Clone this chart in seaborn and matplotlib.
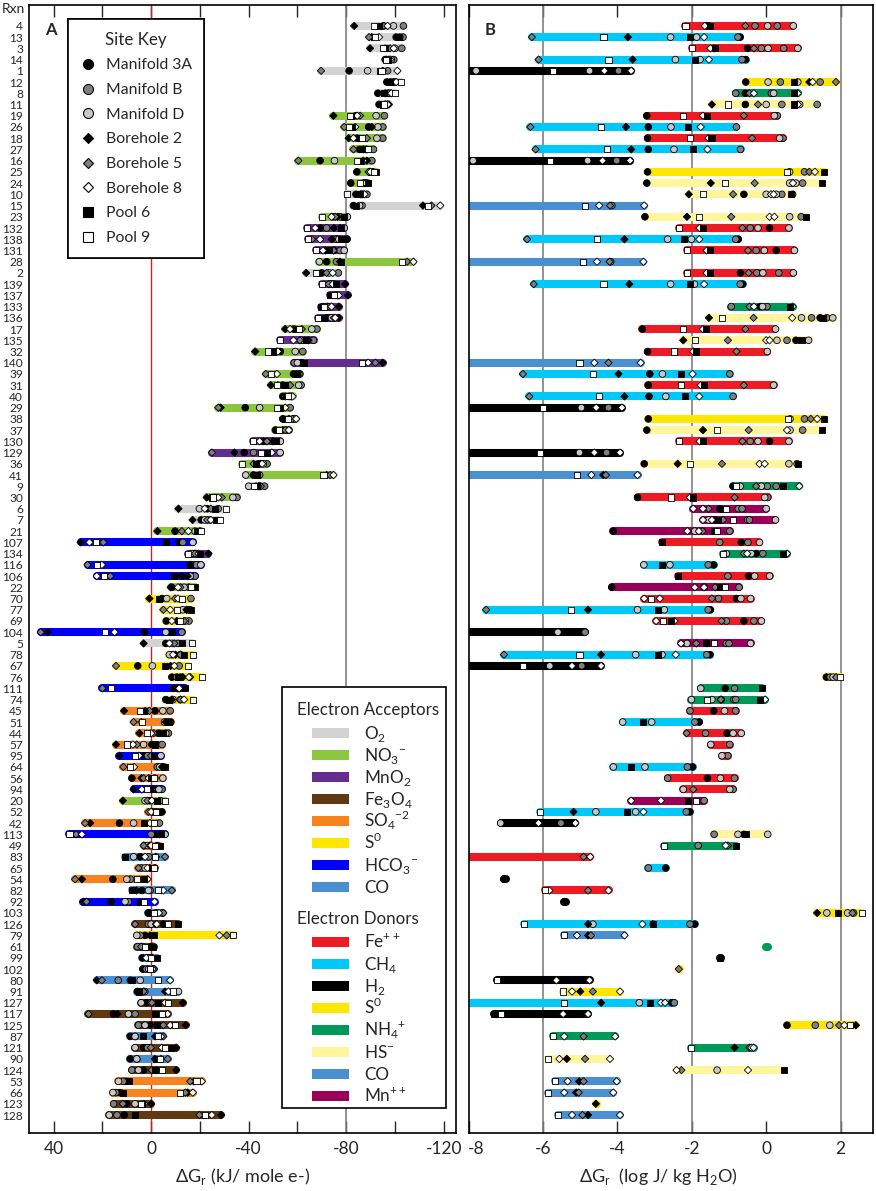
import numpy as np
import pandas as pd
import matplotlib
matplotlib.use('Agg')
import matplotlib.pyplot as plt
from matplotlib.lines import Line2D
from matplotlib.patches import Rectangle
import matplotlib.transforms as mtransforms
import seaborn as sns

N = np.nan

# reaction numbers, top to bottom
rxn = ['4', '13', '3', '14', '1', '12', '8', '11', '19', '26',
       '18', '27', '16', '25', '24', '10', '15', '23', '132', '138',
       '131', '28', '2', '139', '137', '133', '136', '17', '135', '32',
       '140', '39', '31', '40', '29', '38', '37', '130', '129', '36',
       '41', '9', '30', '6', '7', '21', '107', '134', '116', '106',
       '22', '70', '77', '69', '104', '5', '78', '67', '76', '111',
       '74', '45', '51', '44', '57', '95', '64', '56', '94', '20',
       '52', '42', '113', '49', '83', '65', '54', '82', '92', '103',
       '126', '79', '61', '99', '102', '80', '91', '127', '117', '125',
       '87', '121', '90', '124', '53', '66', '123', '128']

acceptor = ['O2', 'O2', 'O2', 'O2', 'O2', 'O2', 'O2', 'O2', 'NO3', 'NO3',
            'NO3', 'NO3', 'NO3', 'NO3', 'NO3', 'O2', 'O2', 'NO3', 'MnO2', 'MnO2',
            'MnO2', 'NO3', 'O2', 'MnO2', 'MnO2', 'MnO2', 'MnO2', 'NO3', 'MnO2', 'NO3',
            'MnO2', 'NO3', 'NO3', 'NO3', 'NO3', 'NO3', 'NO3', 'MnO2', 'MnO2', 'NO3',
            'NO3', 'O2', 'NO3', 'O2', 'O2', 'NO3', 'HCO3', 'MnO2', 'HCO3', 'HCO3',
            'NO3', 'S0', 'S0', 'S0', 'HCO3', 'O2', 'S0', 'S0', 'S0', 'HCO3',
            'S0', 'SO4', 'SO4', 'SO4', 'SO4', 'HCO3', 'SO4', 'SO4', 'HCO3', 'NO3',
            'SO4', 'SO4', 'HCO3', 'SO4', 'CO', 'SO4', 'SO4', 'CO', 'HCO3', 'CO',
            'Fe3O4', 'S0', 'Fe3O4', 'CO', 'CO', 'CO', 'CO', 'Fe3O4', 'Fe3O4', 'Fe3O4',
            'CO', 'Fe3O4', 'CO', 'Fe3O4', 'SO4', 'SO4', 'Fe3O4', 'Fe3O4']

donor = ['Fe', 'CH4', 'Fe', 'CH4', 'H2', 'S0', 'NH4', 'HS', 'Fe', 'CH4',
         'Fe', 'CH4', 'H2', 'S0', 'HS', 'HS', 'CO', 'HS', 'Fe', 'CH4',
         'Fe', 'CO', 'Fe', 'CH4', 'CH4', 'NH4', 'HS', 'Fe', 'HS', 'Fe',
         'CO', 'CH4', 'Fe', 'CH4', 'H2', 'S0', 'HS', 'Fe', 'H2', 'HS',
         'CO', 'NH4', 'Fe', 'Mn', 'Mn', 'Mn', 'Fe', 'NH4', 'CH4', 'Fe',
         'Mn', 'Fe', 'CH4', 'Fe', 'H2', 'Mn', 'CH4', 'H2', 'S0', 'NH4',
         'NH4', 'Fe', 'CH4', 'Fe', 'Fe', 'Fe', 'CH4', 'Fe', 'Fe', 'Mn',
         'CH4', 'H2', 'HS', 'NH4', 'Fe', 'CH4', 'H2', 'Fe', 'H2', 'S0',
         'CH4', 'CO', 'NH4', 'H2', 'S0', 'H2', 'S0', 'CH4', 'H2', 'S0',
         'NH4', 'NH4', 'HS', 'HS', 'CO', 'CO', 'S0', 'CO']

sites = ['Manifold 3A', 'Manifold B', 'Manifold D', 'Borehole 2',
         'Borehole 5', 'Borehole 8', 'Pool 6', 'Pool 9']

# Panel A: dG (kJ / mole e-) per site
a_m3a = [-95.3, -100.5, -96, -96, -81.2, -96.7, -93, -93.5, -84, -89.2,
         -84.5, -85.5, -69.3, -84.4, -81.9, -84, -83, -74.5, -69.5, -80.3,
         -75, -72, -70, -74, -74.5, -70.5, -72, -58.5, -63, -53,
         -61.8, -58.4, -54, -54, -38.6, -54, -51, -46, -38.2, -44,
         -42, -43, -26, -23, -20.5, -9.8, -11.6, -17, -17, -12.6,
         -8.5, -4.5, -16, -6.2, 2.7, -6, -8.5, 5.5, -8.5, -9.2,
         -6, -1.6, -8, -3, -0.3, 3, -5, 7.9, -2, 0.5,
         -4.4, 13, -2.3, -2.5, 4.5, -1.5, 15.7, 3.8, 16.4, 1.2,
         -5, 2.5, 0, 3.6, 3.4, 8.5, 5.6, 2, 15.5, 0.4,
         8.6, 3.1, 8.6, 3.1, 10.3, 12.7, 10, 11]
a_mb = [-103.5, -103.3, -102.8, -99.5, -97, -100, -98, -96.5, -95.7, -95,
        -95, -91.2, -90.5, -91, -88.5, -88.5, -86.5, -77.5, -72, -76,
        -77.5, -76, -76.8, -75, -76, -72, -73.5, -68, -66.6, -62.2,
        -58.7, -61, -61.5, -57, -57, -58.5, -56.5, -49.5, -42, -47.5,
        -44.5, -46.5, -35.2, -27.5, -24, -20, -13, -18.5, -18.5, -18,
        -15.5, -16.3, -15, -15.5, -12.6, -11, -12, -11.5, -10.5, -11.5,
        -12, -7.8, -7, -7.1, -4.5, 1.5, -2.5, -1.5, -4.4, -3.7,
        -1.5, -3.4, 0, 2.8, 1, 4, 8.5, 0.4, 9.3, -4.5,
        1.1, 4.5, 5.6, 1.5, 2, 13.5, 2.6, 0, 6.6, 5.2,
        6.5, 1.5, 5.9, 7.9, 11.5, 14.5, 15.4, 14]
a_md = [-99.4, -102, -100, -98.5, -88.8, -99, -97, -96, -92.3, -93,
        -92.6, -88, -75.2, -90.5, -87.5, -87, -85.5, -80.5, -79.2, -77,
        -79.2, -69, -73, -73.5, -75.5, -73.5, -74, -65.9, -61.5, -59.1,
        -60, -60.5, -60.5, -56.5, -44.5, -59, -55.5, -53, -52.9, -46,
        -38.8, -40, -33.5, -19.8, -22, -18, -17.1, -16.5, -20.4, -16,
        -13.5, -6.4, -13, -14, -6, -8.5, -7.5, -0.5, -12, -11,
        -9, -4.8, -5.5, -6, 3.1, -4, -3.5, -4.8, -3.2, 2.5,
        -2.8, 7.2, -5.7, 1.5, 7.2, 2.5, 10, 1.1, 10.7, -2,
        0, 5.9, 3.5, 0.5, 1, 4.5, -11.2, 4.1, 9.3, 2.5,
        6.6, 6.6, 5.9, 5.2, 13.4, 15.7, 6.6, 17.2]
a_b2 = [-83.3, -90.5, -89.8, -96.5, -95, -98, -96, -97.5, -74.8, -90.5,
        -81, -87, -88.5, -89.5, -87, -86, -111.5, -76.5, -75, -74.1,
        -71.5, -77.5, -63.6, -79.6, -80.7, -77, -77, -55, -64.5, -42.7,
        -95, -59.5, -49.1, -57.5, -28.5, -56.5, -54, -50, -34.2, -45,
        -72, -44.5, -22.8, -11.2, -17, -2.6, 28.9, -23.5, -16, -15,
        -8, 0.7, -14.5, -10.5, 42.5, 3.1, -10, -8, -13, -11,
        -8.5, 11.1, -6, 4.8, 14.4, 13, -4.5, 4, 7.2, 11.6,
        -0.5, 25, -3.5, 0.5, -2, 0.5, 28.4, 6, 27.8, 0.5,
        -2, 0.5, -0.5, -0.5, -1, 22.3, -5.7, -13, 13.8, -14.2,
        -1.6, -10.3, -1.5, -10.3, -17.5, -15, 0, -28.7]
a_b5 = [-95.5, -89.4, -98, -97.5, -69.7, -99.5, -97.5, -96, -85.7, -79.2,
        -88.5, -83, -60.4, -89.2, -87.5, -86.5, -115, -75.5, -77.5, -66,
        -74.8, -105, -72, -72.8, -76.5, -72.5, -75, -61.8, -61, -51.5,
        -92, -47, -57, -55, -27.6, -58, -55, -47.5, -24.9, -42,
        -73.4, -45, -29, -24.5, -23, -12.6, 19.6, -18, 26.1, 16.8,
        -12, -9.8, -5, -13.5, 45.3, -9.5, -12, 14.4, -16, 20,
        -12, 0.7, 7.2, -1, 5.9, 0, 11.4, 3.1, -0.3, 1.5,
        1.1, 27.1, 30.8, 3.1, -5.7, 5.2, 31.2, -8.5, 26.5, -5,
        6.6, -31, 4.1, -0.3, -1.2, 20.2, 3.1, -0.3, 25.7, -5,
        -5, 0.1, -6.8, -0.3, -16, -14, 11.6, -19.8]
a_b8 = [-97, -93.5, -99.5, -98, -101, -100.5, -98.5, -97, -84.5, -83.7,
        -83, -88.5, -87, -90, -88, -87.5, -118.6, -74, -67.3, -69.3,
        -70.5, -107.6, -74.5, -74.5, -77, -74, -75.5, -57, -58.4, -52,
        -89, -51.6, -52, -58, -55, -59.5, -56.5, -44.5, -49.5, -45.5,
        -74.8, -44, -27.5, -22, -24.5, -15.3, 25.3, -19.5, 20.2, 22.3,
        -11, -11, -7.8, -8.5, 15, -7.5, -9, -9.5, -15.5, -11.5,
        -13.5, 2.5, 4, 0, 7.5, 5, 7, 1, 3.8, -0.3,
        0, 0.5, 28.4, 0, 2.5, 1.5, 1.5, -5, -1.4, -3.2,
        -2.3, -28, -1, 2, -0.5, -7.8, -7.1, -5.7, -6.8, -7.8,
        -4, -4.4, -4, -2.2, -20.8, -17.1, 3, -24.9]
a_p6 = [-93.3, -101.5, -96, -97, -93.7, -98, -95.5, -95, -82, -82.5,
        -85.5, -86.5, -86, -92.3, -89, -85.5, -84, -79, -78, -78,
        -73, -78, -68, -76, -73.5, -69.5, -71, -59.5, -63.5, -50,
        -62.5, -60, -55, -55.5, -53, -55, -52, -51, -47.5, -43,
        -43.5, -43.5, -25, -26, -26.5, -19, -6, -20, -16, -9.2,
        -18, -3.4, -16.5, -11.5, -8.5, -12.5, -13.5, -5.7, -11, -14,
        -7.5, 3, -7.5, -5, -1.5, -1, -5.5, 0, 0.5, -2.3,
        -3, 3.1, -4, -3.6, 10.7, -0.5, 3, 8, 4.5, 0.3,
        -11.2, -1, -0.7, -2.3, 0.5, 7.9, 5, -3, -1.6, -2.3,
        3.4, -8, -2, -1.5, 9, 11.5, 3.8, 6.6]
a_p9 = [-91.5, -92, -95, -96.5, -94.5, -102.5, -100, -95.5, -81.4, -81,
        -86.5, -89, -84.4, -91.5, -85.5, -80.5, -113.5, -70, -63.9, -64.5,
        -67.5, -103, -67.5, -70, -75, -71, -68.6, -60.5, -52.9, -48.1,
        -86.4, -49, -51.5, -56, -51.8, -56, -52.5, -41.6, -45, -37.2,
        -70.7, -42, -25.2, -30.8, -28.3, -20.5, 22.6, -15, 22.3, 19.3,
        -16.5, -12.5, -10.5, -12, 18.9, -16.7, -17, -15.3, -20.8, 16.4,
        -17, 4.5, 3.8, 1.8, 10, 6.6, 8.6, -1.2, 1.8, -5.7,
        -2, -1, 33.5, -1.5, -1.5, -1, 5.9, -3, 2.9, -1,
        -7.1, -33.4, 2.5, 0, 0.3, -3, -9, -7.1, -4.4, -9.8,
        -3, -5.7, -3.7, -4.4, -18.6, -11.9, 4, -22.2]

# Panel B: dG (log J / kg H2O) per site; tuples = repeat samples
b_m3a = [-1.55, -0.7, -0.5, -0.55, -8.5, -0.55, -0.56, -0.56, -3.21, -3.17,
         -3.19, -3.17, -8.5, -3.19, -3.21, -0.6, -8.5, -3.26, 0.09, -0.75,
         0.27, -8.5, -0.69, -0.63, N, -0.16, 1.45, -3.33, 0.8, -3.19,
         -8.5, -3.13, -3.17, -3.15, -8.5, -3.17, -3.21, 0.09, -8.5, -3.28,
         -8.5, -0.89, -3.46, -1.25, -1.38, -4.11, -0.67, -0.27, -1.41, -0.47,
         -4.15, -0.8, -1.5, -0.6, -8.5, -1.6, -1.51, -8.5, 1.62, -1.1,
         -1.21, -1.41, -1.8, -1.05, N, N, -1.98, -1.58, N, N,
         -2.05, N, -0.6, N, -8.5, -2.7, -7.05, N, -5.43, N,
         -1.92, N, N, N, N, N, N, -2.54, N, 0.56,
         N, N, N, N, N, N, N, N]
b_mb = [(-0.3, 0.3), -0.76, (-0.13, 0.47), -0.65, -3.97, (0.38, 1.45), (-0.82, 0.14), (0.42, 1.37), 0.3, -0.8,
        0.45, -0.69, -4.02, 1.03, (0.7, 0.98), (0.42, 0.71), -4.15, 0.94, -0.43, -0.82,
        -0.27, -4.18, (-0.25, 0.34), -0.7, N, (-0.94, 0.02), (1.22, 1.63), N, 0.56, N,
        -8.5, -0.98, N, -0.89, -4.24, 1.03, 0.98, -0.43, -4.29, 0.83,
        -8.5, (0.03, 0.27), 0.04, (-0.75, -0.65), (-0.5, -0.45), -0.98, (-1.25, -0.49), -0.09, -1.56, -1.03,
        -0.73, -1.28, -1.56, (-1.07, -0.33), -4.87, (-1.07, -1.0), -1.6, -4.96, 1.72, -0.85,
        (-0.87, -0.82), (-2.05, -0.82), -1.92, -1.63, -0.98, -1.03, -2.12, (-2.65, -0.85), -0.89, -1.67,
        -2.15, -5.52, -1.4, -1.83, N, -3.17, N, N, N, 2.35,
        -2.05, N, N, N, N, N, N, -2.47, N, 1.32,
        N, N, N, N, N, N, N, N]
b_md = [(0.04, 0.73), (-2.57, -1.87), (0.05, 0.85), (-2.44, -1.78), (-7.8, -4.75), (0.05, 0.85), 0.2, (0.0, 0.9), 0.22, -2.56,
        0.36, -2.48, (-7.88, -4.8), 0.63, (0.63, 0.8), (0.0, 0.27), -8.5, 0.63, (-0.22, 0.61), (-2.65, -2.01),
        (-0.05, 0.76), -8.5, (-0.09, 0.73), (-2.57, -1.93), N, -0.1, (0.95, 1.79), 0.25, (0.29, 1.14), 0.03,
        -8.5, -2.79, 0.2, -2.7, -4.97, 0.64, 0.64, (-0.22, 0.61), -5.02, 0.61,
        -8.5, (-0.7, -0.13), -0.04, 0.0, (-1.55, 0.25), -1.92, -0.18, (-1.07, -0.4), (-3.29, -2.59), (-0.31, 0.09),
        -1.67, (-0.68, -0.42), (-3.46, -2.74), -0.13, -5.6, (-2.13, -0.42), (-3.51, -2.8), -5.82, 1.8, -1.76,
        (-2.01, -1.46), -1.12, (-3.86, -3.08), (-0.89, -0.67), -1.49, -1.19, (-4.11, -3.26), -1.23, (-2.23, -0.98), N,
        (-4.58, -3.51), -7.14, (-0.76, 0.04), N, N, N, N, N, N, (1.63, 2.19),
        (-4.66, -3.04), N, N, N, N, N, N, -3.41, N, 1.71,
        N, N, N, -1.32, N, N, N, N]
b_b2 = [-1.6, -3.72, -1.4, -3.59, N, 1.16, N, -1.46, N, -3.77,
        N, -3.63, N, N, -1.49, -2.08, N, -2.13, N, -3.81,
        N, N, N, -3.68, N, N, -1.54, N, -2.23, N,
        N, -3.97, N, -3.81, N, N, -1.7, N, N, -2.38,
        -4.38, N, N, N, N, N, N, N, N, N,
        N, N, -4.79, N, N, N, -4.44, N, N, N,
        N, N, N, N, N, N, N, N, N, N,
        -5.18, N, N, N, N, N, N, N, N, 1.37,
        -4.79, -4.79, N, N, N, N, -5.0, -4.44, N, 2.41,
        N, -0.85, -5.36, N, -5.03, -5.11, -4.58, -4.79]
b_b5 = [-0.56, -6.3, -0.33, -6.12, N, 1.875, -0.45, -0.22, -0.6, -6.34,
        -0.38, -6.2, N, 1.16, -0.31, -0.89, -4.2, -0.94, -0.64, -6.43,
        -0.49, -4.21, -0.47, -6.25, N, -0.45, -0.34, -0.56, -1.03, -0.8,
        -4.24, -6.54, -0.6, -6.37, N, 1.2, -0.47, -0.64, N, -1.19,
        -4.31, -0.27, -0.85, -1.55, -1.16, -1.71, N, -0.6, N, N,
        -1.37, -1.46, -7.53, -1.2, N, -1.88, -7.05, N, 1.88, N,
        -1.22, N, N, -2.14, N, N, N, N, -1.96, N,
        N, N, N, -1.03, -4.91, N, N, -4.79, N, 2.32,
        N, -4.71, N, N, -2.35, N, -4.66, -8.5, N, 1.96,
        -4.91, -0.45, -4.87, -2.28, -4.91, -5.04, N, -4.94]
b_b8 = [-1.65, -1.67, -1.5, -1.54, (-4.35, -3.63), 1.25, (-0.33, 0.85), 0.85, -1.7, -1.76,
        -1.55, -1.58, (-4.4, -3.66), 1.31, 0.72, (0.13, 0.2), (-4.49, -3.28), (0.09, 0.22), -1.79, -1.8,
        -1.6, (-4.55, -3.3), -1.6, -1.67, N, (-0.33, 0.71), 0.7, -1.7, (0.0, 0.09), -1.96,
        (-4.62, -3.375), -1.98, -1.76, -1.8, (-4.57, -3.88), 1.37, 0.56, -1.79, (-4.62, -3.93), (-0.18, -0.04),
        (-4.7, -3.46), 0.89, -2.05, (-1.96, -1.7), (-1.7, -1.46), (-2.12, -1.81), N, (-0.51, 0.56), N, N,
        (-1.92, -1.67), (-3.28, -2.86), N, (-2.96, -2.47), N, -2.29, -2.43, (-5.22, -4.44), N, N,
        -0.03, N, N, N, N, N, N, N, N, (-3.63, -2.83),
        -3.3, (-6.12, -5.13), N, -1.09, -4.73, N, N, (-5.83, -4.24), N, N,
        -3.33, (-5.09, -3.81), N, N, N, (-5.64, -4.75), (-5.22, -3.93), (-2.83, -2.72), (-5.46, -4.79), 2.1,
        (-5.43, -4.06), (-0.4, -0.34), (-5.56, -4.2), (-2.41, -0.49), (-5.34, -4.02), (-5.43, -4.11), N, (-5.22, -3.93)]
b_p6 = [-1.5, -2.05, -1.38, -1.92, -8.5, 0.76, 0.76, 0.76, -1.6, -2.1,
        -1.47, -1.98, -8.5, 1.55, 1.5, 0.67, -8.5, 1.07, -1.7, -2.2,
        -1.5, -8.5, -1.5, -2.05, N, 0.65, 1.52, -1.61, 0.95, -1.88,
        -8.5, -2.28, -1.66, -2.19, -8.5, 1.55, 1.5, -1.7, -8.5, 0.85,
        -8.5, 0.45, -1.96, -1.16, -1.3, -1.41, -2.79, 0.45, -2.81, -2.38,
        -1.25, N, -2.9, -2.57, N, -1.63, -2.92, N, N, -0.12,
        -0.16, N, -3.3, N, N, N, -3.63, N, N, -2.1,
        -3.73, N, -0.55, -0.82, N, N, N, N, N, 1.92,
        -3.04, N, N, -1.25, N, N, N, -3.13, -7.32, N,
        N, N, N, 0.47, N, N, N, N]
b_p9 = [-2.17, -4.375, -2.0, -4.24, -5.74, N, N, -1.03, -2.23, -4.45,
        -2.05, -4.29, -5.82, 0.56, -1.12, -1.71, -4.88, -1.8, -2.35, -4.54,
        -2.13, -4.93, -2.13, -4.375, N, N, -1.2, -2.23, -1.92, -2.48,
        -5.02, -4.66, -2.28, -4.49, -6.0, 0.58, -1.32, -2.35, -6.07, -2.05,
        -5.09, -0.8, -2.56, -1.07, -0.89, -1.32, N, -1.16, N, N,
        -1.12, -3.11, -5.25, -2.77, N, -1.41, -5.02, -6.54, 1.99, N,
        -1.59, N, N, N, N, N, N, N, N, -1.88,
        -6.07, N, N, -2.74, N, N, N, -5.94, N, 2.57,
        -6.52, -5.43, N, N, N, -7.23, -5.47, -5.43, -7.14, 2.26,
        -5.74, -2.01, -5.87, N, -5.69, -5.87, N, -5.6]
# panel B bar drawn without a site marker
b_bar_only = {'61': 0.0}

acceptor_colors = {'O2': '#d3d3d3', 'NO3': '#8cc63f', 'MnO2': '#662d91',
                   'Fe3O4': '#603913', 'SO4': '#f7831f', 'S0': '#ffe600',
                   'HCO3': '#0000ff', 'CO': '#4a8fd0'}
acceptor_labels = {'O2': 'O$_\\mathregular{2}$', 'NO3': 'NO$_\\mathregular{3}$$^\\mathregular{-}$',
                   'MnO2': 'MnO$_\\mathregular{2}$', 'Fe3O4': 'Fe$_\\mathregular{3}$O$_\\mathregular{4}$',
                   'SO4': 'SO$_\\mathregular{4}$$^\\mathregular{-2}$', 'S0': 'S$^\\mathregular{0}$',
                   'HCO3': 'HCO$_\\mathregular{3}$$^\\mathregular{-}$', 'CO': 'CO'}
donor_colors = {'Fe': '#ed1c24', 'CH4': '#00c8f8', 'H2': '#000000', 'S0': '#ffe600',
                'NH4': '#00995a', 'HS': '#fff59d', 'CO': '#4a8fd0', 'Mn': '#9b0058'}
donor_labels = {'Fe': 'Fe$^\\mathregular{++}$', 'CH4': 'CH$_\\mathregular{4}$',
                'H2': 'H$_\\mathregular{2}$', 'S0': 'S$^\\mathregular{0}$',
                'NH4': 'NH$_\\mathregular{4}$$^\\mathregular{+}$', 'HS': 'HS$^\\mathregular{-}$',
                'CO': 'CO', 'Mn': 'Mn$^\\mathregular{++}$'}

site_marker = dict(zip(sites, ['o', 'o', 'o', 'D', 'D', 'D', 's', 's']))
site_fill = dict(zip(sites, ['#000000', '#808080', '#c8c8c8', '#000000',
                             '#808080', '#ffffff', '#000000', '#ffffff']))
site_size = dict(zip(sites, [23, 23, 23, 14, 14, 14, 19, 19]))


def long_table(columns):
    recs = []
    for site, col in zip(sites, columns):
        for i, v in enumerate(col):
            for x in np.atleast_1d(v):
                if np.isfinite(x):
                    recs.append((i, site, float(x)))
    return pd.DataFrame(recs, columns=['row', 'site', 'dg'])


def draw_panel(ax, df, kinds, colors, extra=None):
    g = df.groupby('row')['dg']
    lo, hi = g.min(), g.max()
    if extra:
        for lab, v in extra.items():
            r = rxn.index(lab)
            lo.loc[r] = min(lo.get(r, v), v)
            hi.loc[r] = max(hi.get(r, v), v)
    lo, hi = lo.sort_index(), hi.sort_index()
    rows = lo.index.values
    # a single value still needs a visible (round-capped) dot
    eps = 0.004 * abs(np.diff(ax.get_xlim())[0])
    right = np.maximum(hi.values, lo.values + eps)
    lc = ax.hlines(rows, lo.values, right, colors=[colors[kinds[r]] for r in rows],
                   linewidth=5.8, zorder=2)
    lc.set_capstyle('round')
    sns.scatterplot(data=df, x='dg', y='row', hue='site', style='site', size='site',
                    hue_order=sites, style_order=sites, size_order=sites,
                    palette=site_fill, markers=site_marker, sizes=site_size,
                    edgecolor='black', linewidth=0.6, legend=False, ax=ax, zorder=3)


def draw_key(ax, title, keys, colors, labels, top_px):
    # colour key laid out in the reference's pixel grid (axes A spans x 29.3-456, y 5-1133)
    fx = lambda px: (px - 29.3) / 426.7
    fy = lambda py: 1 - (py - 5) / 1128
    ax.text(fx(297), fy(top_px), title, transform=ax.transAxes, fontsize=12.2,
            ha='left', va='center', zorder=6)
    for k, key in enumerate(keys):
        yc = top_px + 23 + 22 * k
        ax.add_patch(Rectangle((fx(312), fy(yc + 5)), 37 / 426.7, 10 / 1128,
                               transform=ax.transAxes, facecolor=colors[key],
                               edgecolor='none', zorder=6))
        ax.text(fx(364), fy(yc + 5.5), labels[key], transform=ax.transAxes,
                fontsize=12.3, ha='left', va='baseline', zorder=6)


sns.set_style('white')
plt.rcParams['font.family'] = ['Lato', 'DejaVu Sans']
plt.rcParams['axes.unicode_minus'] = False

df_a = long_table([a_m3a, a_mb, a_md, a_b2, a_b5, a_b8, a_p6, a_p9])
df_b = long_table([b_m3a, b_mb, b_md, b_b2, b_b5, b_b8, b_p6, b_p9])

fig = plt.figure(figsize=(8.76, 11.91), dpi=100)
ax_a = fig.add_axes([0.0334, 0.0487, 0.487, 0.947])
ax_b = fig.add_axes([0.535, 0.0487, 0.4615, 0.947])
ax_a.set_xlim(50, -125)
ax_b.set_xlim(-7.98, 2.87)

ax_a.axvline(0, color='#c1272d', lw=1.0, zorder=1)
ax_a.axvline(-80, color='#808080', lw=1.2, zorder=1)
for v in (-6, -2, 2):
    ax_b.axvline(v, color='#808080', lw=1.2, zorder=1)

draw_panel(ax_a, df_a, acceptor, acceptor_colors)
draw_panel(ax_b, df_b, donor, donor_colors, b_bar_only)
ax_a.set_xlim(50, -125)
ax_b.set_xlim(-7.98, 2.87)

for ax in (ax_a, ax_b):
    ax.set_ylim(98.6, -1.85)
    ax.set_xlabel('')
    ax.set_ylabel('')
    for s in ax.spines.values():
        s.set_linewidth(1.2)
        s.set_color('black')
        s.set_visible(True)

ax_a.set_xticks([40, 0, -40, -80, -120])
ax_a.set_xticklabels(['40', '0', '-40', '-80', '-120'])
ax_a.set_xticks([20, -20, -60, -100], minor=True)
ax_a.tick_params(axis='x', which='both', direction='in', top=True, bottom=True,
                 length=8.5, width=1.0, labelsize=12.5, pad=6)
ax_a.set_yticks(range(len(rxn)))
ax_a.set_yticklabels(rxn)
ax_a.tick_params(axis='y', length=0, labelsize=8.6, pad=4.5)

ax_b.set_xticks([-8, -6, -4, -2, 0, 2])
ax_b.set_xticklabels(['-8', '-6', '-4', '-2', '0', '2'])
ax_b.tick_params(axis='x', direction='in', top=True, bottom=True,
                 length=8.5, width=1.0, labelsize=12.5, pad=6)
ax_b.set_yticks([])
first = ax_b.get_xticklabels()[0]
first.set_transform(first.get_transform() +
                    mtransforms.ScaledTranslation(8 / 100, 0, fig.dpi_scale_trans))

ax_a.text(0.5, -0.039, 'ΔG$_\\mathregular{r}$ (kJ/ mole e-)', transform=ax_a.transAxes,
          ha='center', va='center', fontsize=13)
ax_b.text(0.47, -0.039, 'ΔG$_\\mathregular{r}$  (log J/ kg H$_\\mathregular{2}$O)',
          transform=ax_b.transAxes, ha='center', va='center', fontsize=13)
ax_a.text(0.037, 0.978, 'A', transform=ax_a.transAxes, fontsize=12, fontweight='bold',
          ha='left', va='center')
ax_b.text(0.04, 0.978, 'B', transform=ax_b.transAxes, fontsize=12, fontweight='bold',
          ha='left', va='center')
fig.text(0.002, 1 - 9 / 1191, 'Rxn', fontsize=10, ha='left', va='center')

# site key legend
site_handles = [Line2D([0], [0], marker=site_marker[s], ls='none', mfc=site_fill[s],
                       mec='black', mew=0.8,
                       ms={'o': 7.2, 'D': 5.2, 's': 6.8}[site_marker[s]])
                for s in sites]
leg1 = ax_a.legend(site_handles, sites, title='Site Key', loc='upper left',
                   bbox_to_anchor=(0.0907, 0.9876), borderaxespad=0, frameon=True,
                   fancybox=False, edgecolor='black', framealpha=1, fontsize=11.3,
                   title_fontsize=12.2, handlelength=1.0, handletextpad=0.6,
                   labelspacing=0.68, borderpad=0.8)
leg1.get_frame().set_linewidth(1.2)
ax_a.add_artist(leg1)

# electron acceptor / donor key
ax_a.add_patch(Rectangle((0.5915, 0.0222), 0.385, 0.3732, transform=ax_a.transAxes,
                         facecolor='white', edgecolor='black', lw=1.2, zorder=4))
draw_key(ax_a, 'Electron Acceptors', list(acceptor_colors), acceptor_colors,
         acceptor_labels, 710)
draw_key(ax_a, 'Electron Donors', list(donor_colors), donor_colors, donor_labels, 919)

fig.savefig('out.png', dpi=100)
